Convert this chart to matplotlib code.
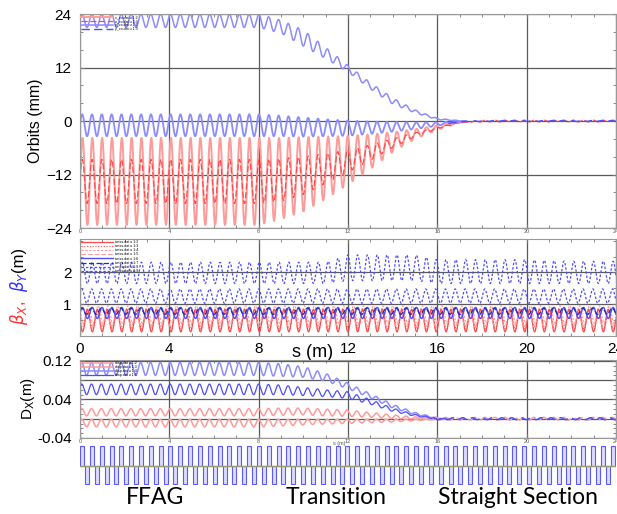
import numpy as np
import matplotlib
matplotlib.use("Agg")
import matplotlib.pyplot as plt
from matplotlib.patches import Rectangle
from matplotlib.ticker import MultipleLocator

plt.rcParams['font.family'] = ['Liberation Sans', 'DejaVu Sans']

# --- lattice (one F and one D magnet per cell) ---
cell_length = 0.44
n_cells = 55
magnet_f = (0.00, 0.18)    # start inside cell, length
magnet_d = (0.22, 0.18)

# envelope knots along s (m); each trace is given by its upper / lower extreme
s_knots = [0, 2, 4, 6, 8, 9, 10, 11, 12, 13, 14, 15, 16, 17, 18, 20, 22, 24]

# orbits (mm)
orb_blue_up_hi = [24, 24, 24, 24, 24, 22.6, 20.4, 16.5, 12.5, 8.6, 5.2, 2.5, 0.6, 0.1, 0, 0, 0, 0]
orb_blue_up_lo = [21, 21, 21, 21, 21, 19.7, 16.8, 14.0, 11.0, 7.2, 3.8, 1.8, 0.3, 0.0, 0, 0, 0, 0]
orb_blue_lo_hi = [1.5, 1.5, 1.5, 1.5, 1.5, 1.2, 0.8, 0.4, 0.1, -0.1, -0.2, -0.3, -0.3, 0.0, 0, 0, 0, 0]
orb_blue_lo_lo = [-3.4, -3.4, -3.4, -3.4, -3.4, -3.4, -3.5, -3.4, -3.3, -2.9, -2.4, -1.8, -1.1, -0.2, 0, 0, 0, 0]
orb_red_hi = [-3.8, -3.8, -3.8, -3.8, -3.8, -3.8, -3.6, -3.5, -3.3, -3.0, -2.5, -1.8, -1.0, -0.2, 0, 0, 0, 0]
orb_red_lo = [-23.3, -23.3, -23.3, -23.3, -23.3, -22.0, -20.3, -17.5, -14.2, -10.8, -7.0, -4.0, -2.0, -0.4, 0, 0, 0, 0]
orb_red_in_hi = [-8.6, -8.6, -8.6, -8.6, -8.6, -8.4, -8.0, -7.3, -6.5, -5.3, -4.0, -2.6, -1.4, -0.3, 0.2, 0.2, 0.2, 0.2]
orb_red_in_lo = [-18.5, -18.5, -18.5, -18.5, -18.5, -18.0, -16.5, -14.0, -11.5, -8.8, -6.0, -3.5, -1.7, -0.4, -0.2, -0.2, -0.2, -0.2]

# beta functions (m)
bet_y1_hi = [2.32, 2.32, 2.32, 2.32, 2.32, 2.32, 2.32, 2.32, 2.55, 2.55, 2.55, 2.55, 2.40, 2.40, 2.40, 2.40, 2.35, 2.35]
bet_y1_lo = [1.65, 1.65, 1.65, 1.65, 1.65, 1.65, 1.65, 1.65, 1.74, 1.74, 1.74, 1.74, 1.65, 1.65, 1.65, 1.65, 1.65, 1.65]
bet_y2_hi = [1.48] * 18
bet_y2_lo = [1.03] * 18
bet_y3_hi = [0.90] * 18
bet_y3_lo = [0.55] * 18
bet_y4_hi = [0.88] * 18
bet_y4_lo = [0.68] * 18
bet_x1_hi = [0.84] * 18
bet_x1_lo = [0.13] * 18
bet_x2_hi = [0.78] * 18
bet_x2_lo = [0.22] * 18
bet_x3_hi = [0.95] * 18
bet_x3_lo = [0.40] * 18
bet_x4_hi = [0.70] * 18
bet_x4_lo = [0.30] * 18

# dispersion (m)
dx_blue1_hi = [0.117, 0.117, 0.117, 0.117, 0.117, 0.114, 0.108, 0.094, 0.074, 0.052, 0.030, 0.013, 0.002, 0, 0, 0, 0, 0]
dx_blue1_lo = [0.090, 0.090, 0.090, 0.090, 0.090, 0.088, 0.086, 0.078, 0.062, 0.043, 0.022, 0.008, 0.000, 0, 0, 0, 0, 0]
dx_blue2_hi = [0.072, 0.072, 0.072, 0.072, 0.072, 0.070, 0.065, 0.060, 0.056, 0.040, 0.022, 0.009, 0.001, 0, 0, 0, 0, 0]
dx_blue2_lo = [0.050, 0.050, 0.050, 0.050, 0.050, 0.050, 0.048, 0.046, 0.042, 0.030, 0.015, 0.005, -0.001, 0, 0, 0, 0, 0]
dx_red1_hi = [0.021, 0.021, 0.021, 0.021, 0.021, 0.022, 0.022, 0.020, 0.018, 0.013, 0.008, 0.004, 0.001, 0, 0, 0, 0, 0]
dx_red1_lo = [0.006, 0.006, 0.006, 0.006, 0.006, 0.007, 0.008, 0.006, 0.005, 0.003, 0.000, -0.001, -0.001, 0, 0, 0, 0, 0]
dx_red2_hi = [-0.001] * 13 + [0, 0, 0, 0, 0]
dx_red2_lo = [-0.017, -0.017, -0.017, -0.017, -0.017, -0.015, -0.013, -0.011, -0.010, -0.008, -0.007, -0.004, -0.002, 0, 0, 0, 0, 0]
dx_tail_hi = [0.004] * 18
dx_tail_lo = [-0.004] * 18

RED = '#ff4a4a'
RED_L = '#ff9a9a'
BLUE = '#4d4dff'
BLUE_L = '#8c8cff'
GRID = '#5a5a5a'

s = np.linspace(0, 24, 6000)


def trace(hi, lo, phase=0.0):
    hi_s = np.interp(s, s_knots, hi)
    lo_s = np.interp(s, s_knots, lo)
    return 0.5 * (hi_s + lo_s) + 0.5 * (hi_s - lo_s) * np.sin(2 * np.pi * s / cell_length + phase)


def style(ax, big_labels=False):
    ax.set_xlim(0, 24)
    ax.xaxis.set_major_locator(MultipleLocator(4))
    ax.xaxis.set_minor_locator(MultipleLocator(1))
    ax.grid(True, which='major', color=GRID, lw=0.9)
    ax.tick_params(which='both', direction='in', top=True, right=True, colors='#777777',
                   labelcolor='black')
    ax.tick_params(which='major', length=3)
    ax.tick_params(which='minor', length=2)
    ax.tick_params(axis='y', labelsize=11, pad=6)
    if big_labels:
        ax.tick_params(axis='x', labelsize=11, pad=4)
    else:
        ax.tick_params(axis='x', labelsize=4, pad=1, labelcolor='#555555')
    for sp in ax.spines.values():
        sp.set_color('#999999')
        sp.set_linewidth(0.8)


fig = plt.figure(figsize=(6.17, 5.14), dpi=100)

# ---------------- orbits ----------------
ax1 = fig.add_axes([0.1297, 0.5564, 0.8687, 0.4163])
solid = s <= 17.3
l1, = ax1.plot(s[solid], trace(orb_red_hi, orb_red_lo)[solid], color=RED_L, lw=1.4)
l2, = ax1.plot(s, trace(orb_red_in_hi, orb_red_in_lo, 0.15), color=RED, lw=0.9, ls=(0, (5, 2)))
l3, = ax1.plot(s[solid], trace(orb_blue_up_hi, orb_blue_up_lo, 0.3)[solid], color=BLUE_L, lw=1.1)
l4, = ax1.plot(s[solid], trace(orb_blue_lo_hi, orb_blue_lo_lo, 0.2)[solid], color=BLUE_L, lw=1.3)
l5, = ax1.plot(s[s >= 16.5], trace(orb_red_in_hi, orb_red_in_lo, 1.3)[s >= 16.5] * 0.5,
               color=BLUE, lw=1.0, ls=(0, (6, 3)))
ax1.set_ylim(-24, 24)
ax1.set_yticks([-24, -12, 0, 12, 24])
ax1.yaxis.set_minor_locator(MultipleLocator(4))
style(ax1)
ax1.set_ylabel('Orbits (mm)', fontsize=11.5, labelpad=2)
ax1.text(11.7, -26.4, 's (m)', fontsize=4, color='#555555', ha='center', va='top')
ax1.legend([l1, l2, l3, l5], ['x_co.dat u 1:2', 'x_co.dat u 1:3', 'y_co.dat u 1:2', 'y_co.dat u 1:3'],
           loc='upper left', fontsize=2.6, frameon=False, handlelength=9, labelspacing=0.05,
           borderaxespad=0.15, handletextpad=0.5, borderpad=0.1)

# ---------------- beta functions ----------------
ax2 = fig.add_axes([0.1297, 0.3463, 0.8687, 0.1887])
b_y1, = ax2.plot(s, trace(bet_y1_hi, bet_y1_lo), color=BLUE, lw=0.9, ls=(0, (2, 1.5)))
b_y2, = ax2.plot(s, trace(bet_y2_hi, bet_y2_lo, 0.4), color=BLUE, lw=0.9, ls=(0, (2, 1.5)))
b_x3, = ax2.plot(s, trace(bet_x3_hi, bet_x3_lo, 2.6), color=RED_L, lw=0.8, ls=(0, (2, 1.5)))
b_x2, = ax2.plot(s, trace(bet_x2_hi, bet_x2_lo, 2.9), color=RED, lw=0.8, ls=(0, (1, 1.5)))
b_x1, = ax2.plot(s, trace(bet_x1_hi, bet_x1_lo, 3.1), color=RED, lw=0.9)
b_x4, = ax2.plot(s, trace(bet_x4_hi, bet_x4_lo, 3.4), color=RED_L, lw=0.8, ls=(0, (4, 2)))
b_y3, = ax2.plot(s, trace(bet_y3_hi, bet_y3_lo, 0.0), color=BLUE, lw=1.0)
b_y4, = ax2.plot(s, trace(bet_y4_hi, bet_y4_lo, 0.6), color='#2a2a9a', lw=0.9, ls=(0, (4, 2)))
ax2.set_ylim(0, 3.05)
ax2.set_yticks([1, 2])
ax2.yaxis.set_minor_locator(MultipleLocator(0.5))
style(ax2, big_labels=True)
ax2.text(10.4, -0.25, 's (m)', fontsize=13, ha='center', va='top')
ax2.legend([b_x1, b_x2, b_x3, b_x4, b_y3, b_y4, b_y1, b_y2],
           ['twiss.dat u 1:2', 'twiss.dat u 1:3', 'twiss.dat u 1:4', 'twiss.dat u 1:5',
            'twiss.dat u 1:6', 'twiss.dat u 1:7', 'twiss.dat u 1:8', 'twiss.dat u 1:9'],
           loc='upper left', fontsize=2.6, frameon=False, handlelength=9, labelspacing=0.05,
           borderaxespad=0.15, handletextpad=0.5, borderpad=0.1)

# multi-coloured y label: beta_X, beta_Y (m)
fig.text(0.030, 0.368, r'$\beta_X$,', rotation=90, color='#ff3030', fontsize=12, ha='center', va='bottom')
fig.text(0.030, 0.432, r'$\beta_Y$', rotation=90, color='#3030ff', fontsize=12, ha='center', va='bottom')
fig.text(0.030, 0.470, '(m)', rotation=90, color='black', fontsize=12, ha='center', va='bottom')

# ---------------- dispersion ----------------
ax3 = fig.add_axes([0.1297, 0.1479, 0.8687, 0.1518])
sd = s <= 16.6
d1, = ax3.plot(s[sd], trace(dx_red1_hi, dx_red1_lo, 0.5)[sd], color=RED_L, lw=1.1)
d2, = ax3.plot(s[sd], trace(dx_red2_hi, dx_red2_lo, 0.5)[sd], color=RED_L, lw=1.1)
d3, = ax3.plot(s[sd], trace(dx_blue1_hi, dx_blue1_lo, 0.5)[sd], color=BLUE_L, lw=1.1)
d4, = ax3.plot(s[sd], trace(dx_blue2_hi, dx_blue2_lo, 0.5)[sd], color=BLUE, lw=0.9)
tail = s >= 15.8
d5, = ax3.plot(s[tail], trace(dx_tail_hi, dx_tail_lo, 0.3)[tail] * 0.7, color=RED_L, lw=1.1, ls=(0, (6, 3)))
d6, = ax3.plot(s[tail], trace(dx_tail_hi, dx_tail_lo, 2.0)[tail] * 0.5, color=BLUE, lw=1.1, ls=(0, (6, 3)))
ax3.set_ylim(-0.04, 0.122)
ax3.set_yticks([-0.04, 0.0, 0.04, 0.08, 0.12])
ax3.set_yticklabels(['-0.04', '', '0.04', '', '0.12'])
ax3.yaxis.set_minor_locator(MultipleLocator(0.01))
style(ax3)
ax3.set_ylabel(r'D$_\mathrm{X}$(m)', fontsize=11, labelpad=0)
ax3.text(11.6, -0.047, 's (m)', fontsize=4, color='#555555', ha='center', va='top')
ax3.legend([d1, d2, d3, d4], ['disp.dat u 1:2', 'disp.dat u 1:3', 'disp.dat u 1:4', 'disp.dat u 1:5'],
           loc='upper left', fontsize=2.6, frameon=False, handlelength=9, labelspacing=0.05,
           borderaxespad=0.15, handletextpad=0.5, borderpad=0.1)

# ---------------- lattice ----------------
ax4 = fig.add_axes([0.1297, 0.0564, 0.8687, 0.0778])
ax4.set_xlim(0, 24)
ax4.set_ylim(-0.95, 1.05)
ax4.axis('off')
ax4.axhline(0, color='#9a9a70', lw=1.0)
for k in range(n_cells):
    x0 = k * cell_length
    ax4.add_patch(Rectangle((x0 + magnet_f[0], 0), magnet_f[1], 1.0,
                            facecolor='#dcdcff', edgecolor='#5a5aff', lw=0.8))
    ax4.add_patch(Rectangle((x0 + magnet_d[0], -0.9), magnet_d[1], 0.9,
                            facecolor='#dcdcff', edgecolor='#5a5aff', lw=0.8))

for x, lab in [(0.252, 'FFAG'), (0.545, 'Transition'), (0.840, 'Straight Section')]:
    fig.text(x, 0.033, lab, fontsize=16.5, family=['Lato', 'DejaVu Sans'], ha='center', va='center')

fig.savefig('out.png', dpi=100)
